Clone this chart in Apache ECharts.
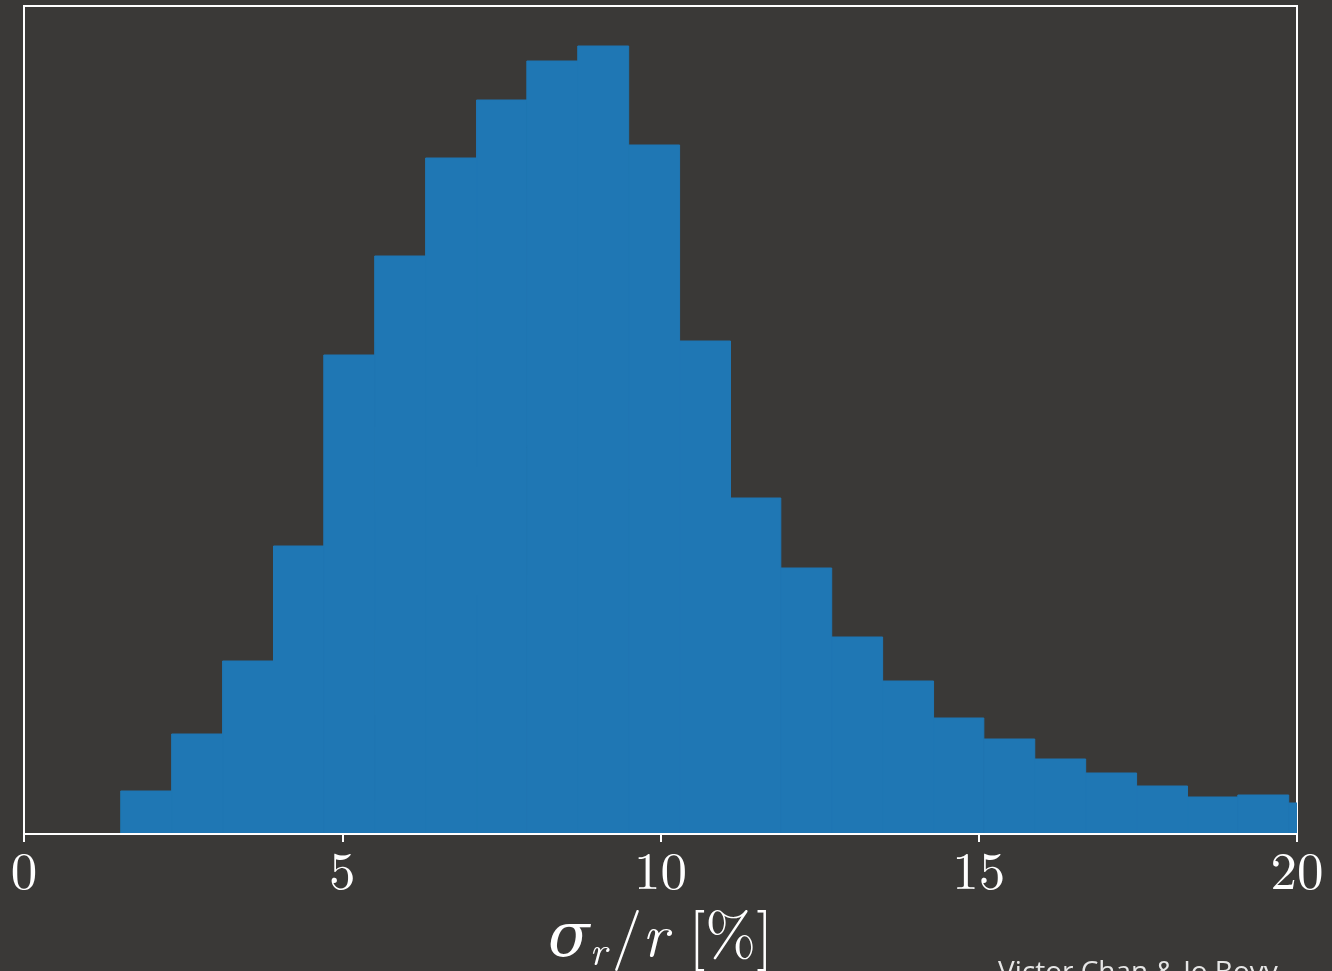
<!DOCTYPE html>
<html lang="en">

<head>
    <meta charset="UTF-8">
    <title>sigma_r / r histogram</title>
    <style>
        html, body {
            margin: 0;
            padding: 0;
            background: #3a3937;
        }
        #main {
            width: 1332px;
            height: 971px;
        }
    </style>
</head>

<body>
    <div id="main"></div>
    <script src="https://cdn.jsdelivr.net/npm/echarts@6/dist/echarts.min.js"></script>
    <script>
        // bin edges (percent) and counts
        let binEdges = [1.52, 2.32, 3.12, 3.92, 4.71, 5.51, 6.31, 7.11, 7.90, 8.70, 9.50, 10.30,
            11.10, 11.89, 12.69, 13.49, 14.29, 15.08, 15.88, 16.68, 17.48, 18.28, 19.07, 19.87, 20.67];
        let binCounts = [43, 100, 173, 288, 479, 578, 676, 734, 773, 788, 689, 493,
            336, 266, 197, 153, 116, 95, 75, 61, 48, 37, 39, 31];
        let xTicks = [0, 5, 10, 15, 20];

        let bins = binCounts.map((c, i) => [binEdges[i], binEdges[i + 1], c]);

        var myChart = echarts.init(document.getElementById('main'));
        let white = '#ffffff';
        let serif = '"Latin Modern Roman", "DejaVu Serif", serif';

        option = {
            backgroundColor: '#3a3937',
            animation: false,
            grid: {
                left: 24,
                right: 35,
                top: 6,
                bottom: 137,
                outerBoundsMode: 'none',
                containLabel: false,
                show: true,
                borderColor: white,
                borderWidth: 2,
                backgroundColor: 'transparent'
            },
            xAxis: {
                type: 'value',
                min: 0,
                max: 20,
                interval: 5,
                z: 10,
                axisLine: { show: true, lineStyle: { color: white, width: 2 } },
                axisTick: { show: true, length: 8, lineStyle: { color: white, width: 2 } },
                axisLabel: {
                    color: white,
                    fontFamily: serif,
                    fontSize: 53,
                    margin: 12,
                    hideOverlap: false,
                    formatter: v => xTicks.includes(v) ? String(v) : ''
                },
                splitLine: { show: false },
                name: '{i|σ}{s|r}{n|/}{i|r}{n| [%]}',
                nameLocation: 'middle',
                nameGap: 67,
                nameTextStyle: {
                    color: white,
                    rich: {
                        i: { fontFamily: serif, fontStyle: 'italic', fontSize: 61, color: white, lineHeight: 72, verticalAlign: 'middle' },
                        s: { fontFamily: serif, fontStyle: 'italic', fontSize: 41, color: white, lineHeight: 72, verticalAlign: 'bottom', padding: [0, 5, 0, 0] },
                        n: { fontFamily: serif, fontSize: 61, color: white, lineHeight: 72, verticalAlign: 'middle' }
                    }
                }
            },
            yAxis: {
                type: 'value',
                min: 0,
                max: 828,
                axisLine: { show: false },
                axisTick: { show: false },
                axisLabel: { show: false },
                splitLine: { show: false }
            },
            graphic: [{
                type: 'text',
                left: 998,
                top: 959,
                style: {
                    text: 'Victor Chan & Jo Bovy',
                    fill: '#e6e6e6',
                    font: '28px "Open Sans", sans-serif'
                }
            }],
            series: [{
                type: 'custom',
                clip: true,
                renderItem(params, api) {
                    let p0 = api.coord([api.value(0), api.value(2)]);
                    let p1 = api.coord([api.value(1), 0]);
                    return {
                        type: 'rect',
                        shape: { x: p0[0], y: p0[1], width: p1[0] - p0[0], height: p1[1] - p0[1] },
                        style: { fill: '#1f77b4', stroke: '#1f77b4', lineWidth: 1 }
                    };
                },
                encode: { x: [0, 1], y: 2 },
                data: bins
            }]
        };
        myChart.setOption(option);
    </script>

</body>

</html>
